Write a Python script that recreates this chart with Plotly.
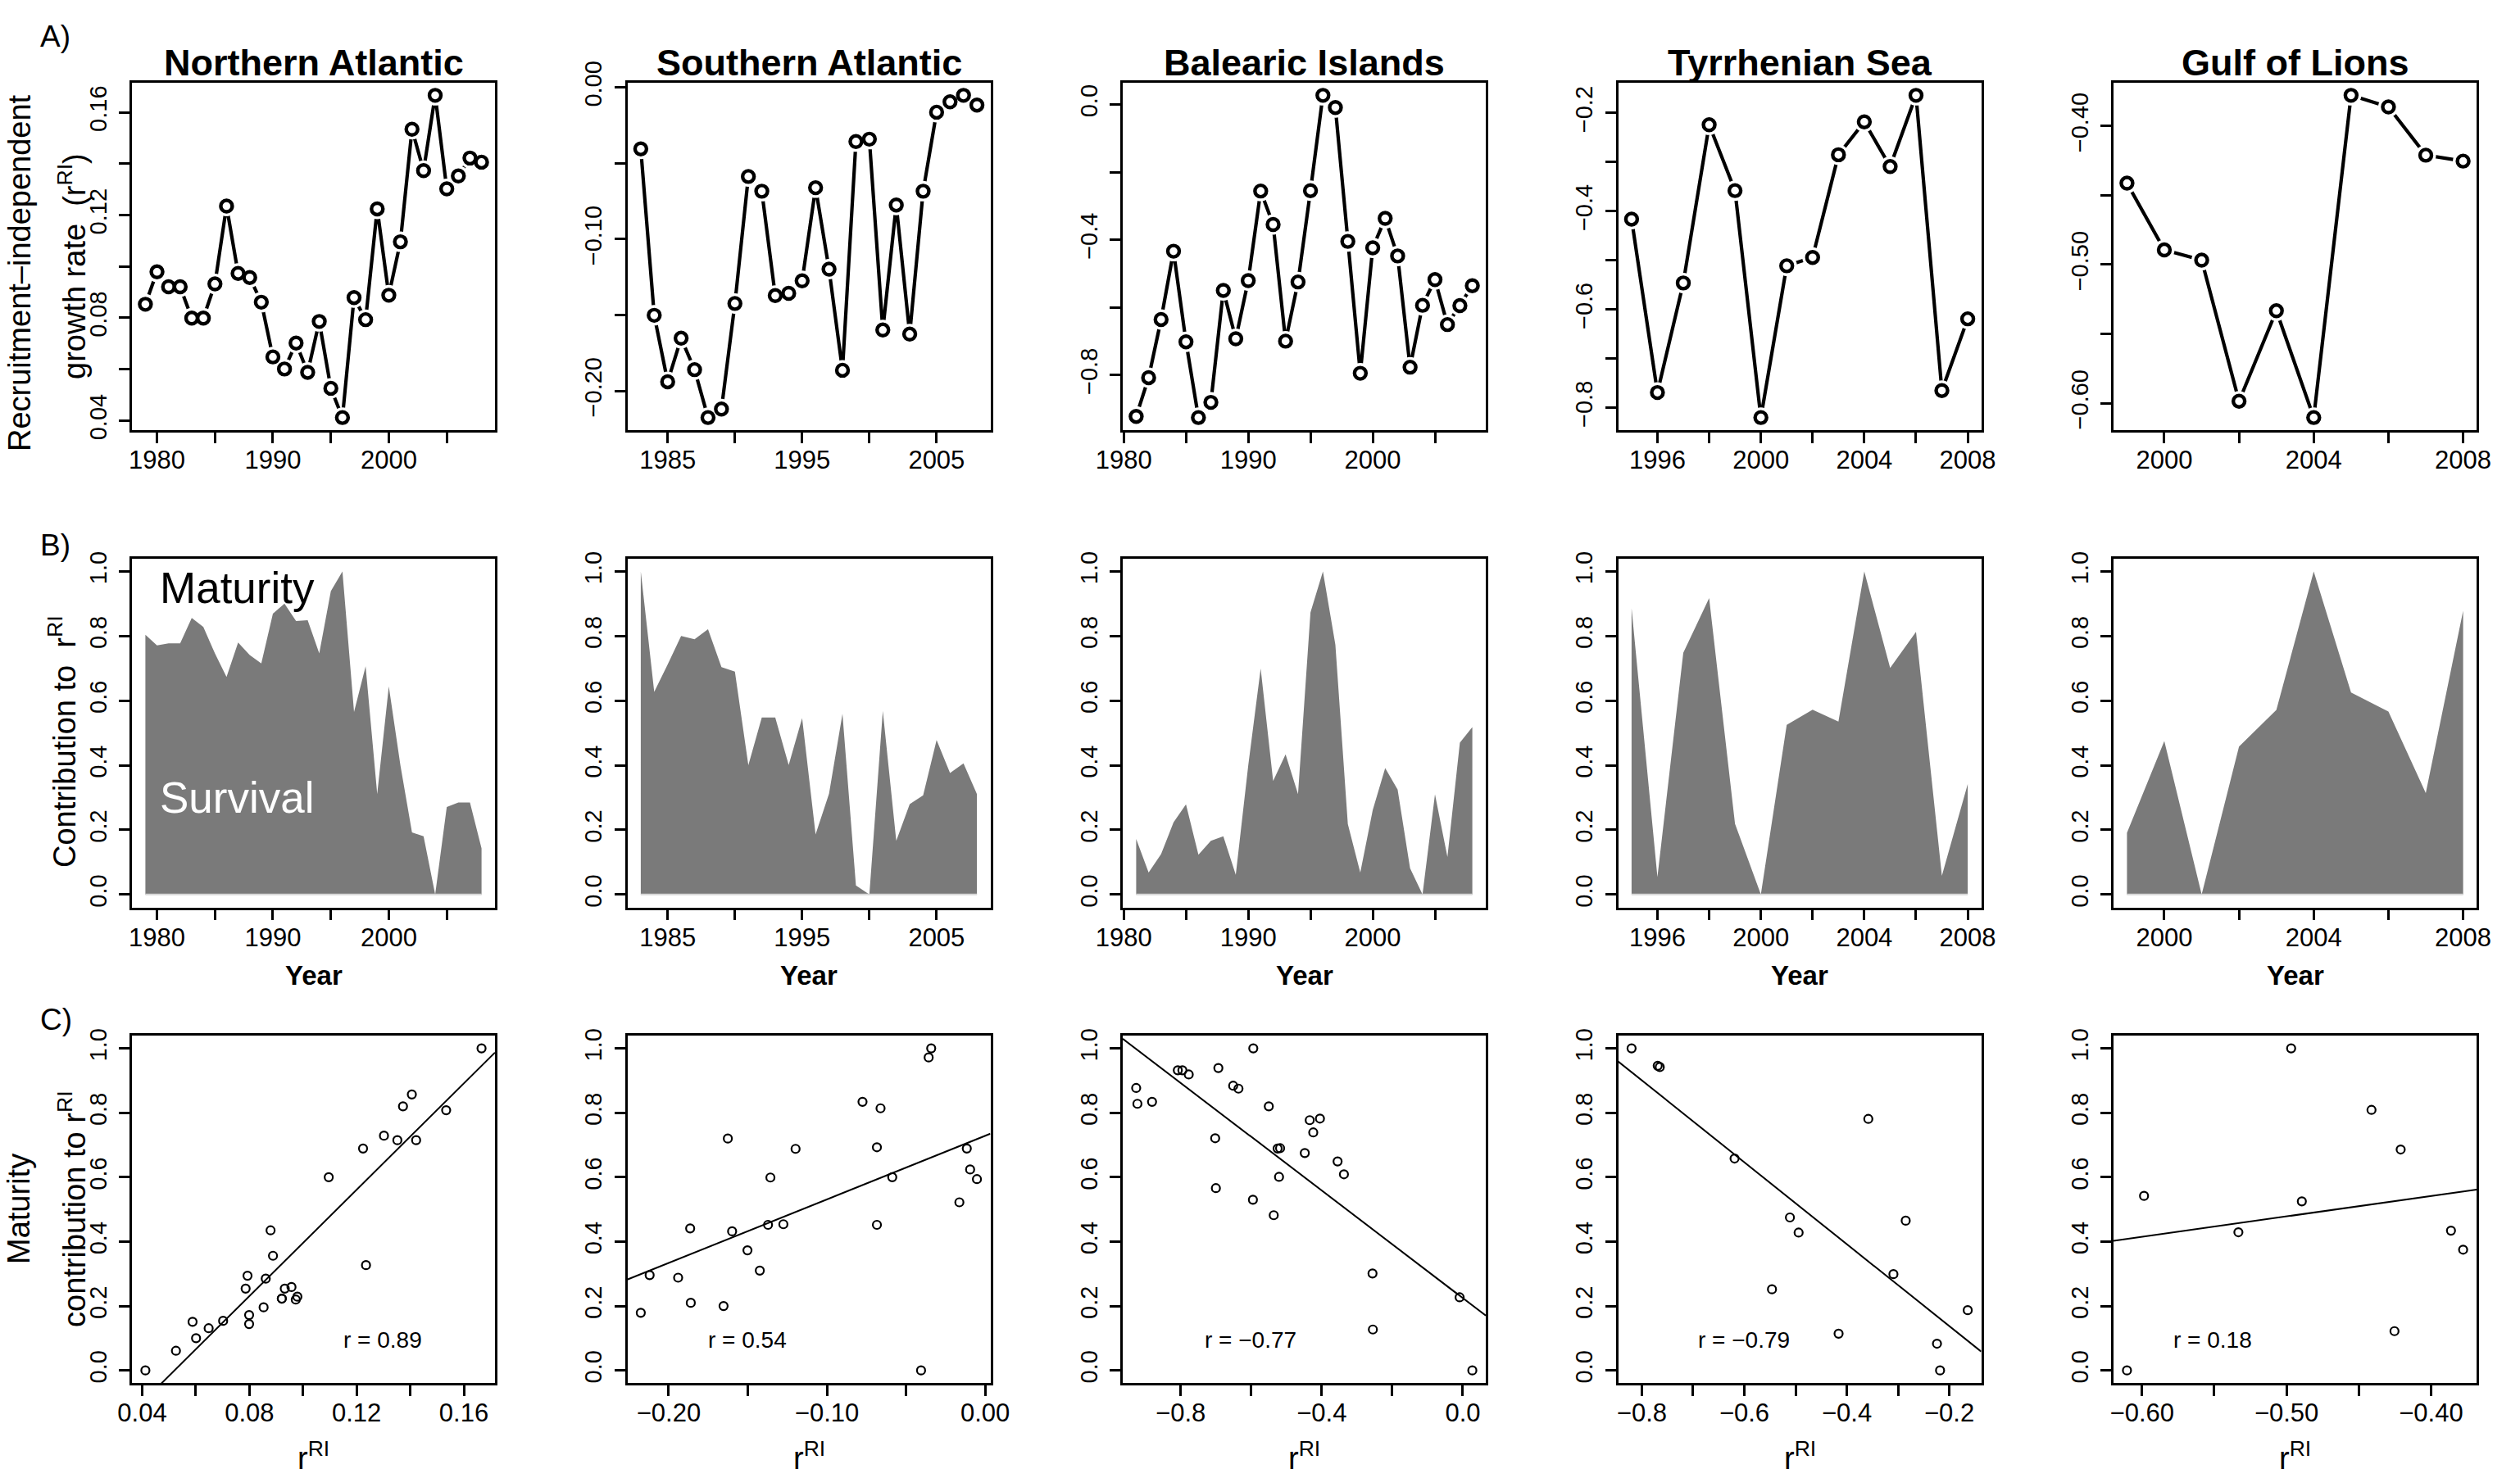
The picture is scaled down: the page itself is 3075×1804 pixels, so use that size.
import numpy as np
import plotly.graph_objects as go

FONT = "Liberation Sans, Arial, Helvetica, sans-serif"
W, H = 3075, 1804

regions = ["Northern Atlantic", "Southern Atlantic", "Balearic Islands",
           "Tyrrhenian Sea", "Gulf of Lions"]

# ---- yearly series per region -------------------------------------------
years_na = list(range(1979, 2009))
growth_na = [0.0853, 0.0979, 0.0921, 0.0921, 0.0799, 0.0799, 0.0932, 0.1235,
             0.0973, 0.0957, 0.0861, 0.0648, 0.0601, 0.0702, 0.0588, 0.0786,
             0.0526, 0.0412, 0.0879, 0.0793, 0.1224, 0.0888, 0.1096, 0.1534,
             0.1373, 0.1666, 0.1302, 0.1352, 0.1422, 0.1406]
maturity_na = [0.196, 0.229, 0.223, 0.223, 0.144, 0.172, 0.254, 0.327, 0.220,
               0.259, 0.285, 0.131, 0.100, 0.154, 0.151, 0.254, 0.061, 0.000,
               0.435, 0.294, 0.689, 0.356, 0.600, 0.808, 0.820, 1.000, 0.729,
               0.715, 0.715, 0.857]

years_sa = list(range(1983, 2009))
growth_sa = [-0.0405, -0.1502, -0.1940, -0.1653, -0.1860, -0.2176, -0.2120,
             -0.1424, -0.0587, -0.0684, -0.1372, -0.1357, -0.1275, -0.0661,
             -0.1198, -0.1864, -0.0357, -0.0341, -0.1599, -0.0775, -0.1626,
             -0.0684, -0.0163, -0.0095, -0.0052, -0.0116]
maturity_sa = [0.000, 0.373, 0.288, 0.200, 0.210, 0.179, 0.296, 0.310, 0.600,
               0.452, 0.452, 0.599, 0.454, 0.814, 0.688, 0.441, 0.972, 1.000,
               0.432, 0.834, 0.720, 0.693, 0.522, 0.624, 0.594, 0.689]

years_bi = list(range(1981, 2009))
growth_bi = [-0.9225, -0.808, -0.636, -0.434, -0.702, -0.926, -0.881, -0.550,
             -0.693, -0.521, -0.256, -0.355, -0.700, -0.525, -0.255, 0.027,
             -0.009, -0.405, -0.795, -0.424, -0.337, -0.448, -0.777, -0.594,
             -0.518, -0.651, -0.595, -0.536]
maturity_bi = [0.828, 0.932, 0.875, 0.777, 0.721, 0.877, 0.834, 0.820, 0.939,
               0.601, 0.301, 0.649, 0.566, 0.689, 0.127, 0.000, 0.227, 0.782,
               0.932, 0.739, 0.609, 0.675, 0.919, 1.000, 0.690, 0.884, 0.530,
               0.482]

years_ts = list(range(1995, 2009))
growth_ts = [-0.416, -0.769, -0.546, -0.224, -0.358, -0.820, -0.511, -0.494,
             -0.285, -0.218, -0.309, -0.164, -0.765, -0.619]
maturity_ts = [0.114, 0.946, 0.252, 0.083, 0.781, 1.000, 0.475, 0.428, 0.465,
               0.000, 0.299, 0.187, 0.942, 0.658]

years_gl = list(range(1999, 2009))
growth_gl = [-0.4412, -0.4894, -0.4968, -0.5986, -0.5333, -0.6104, -0.3778,
             -0.3862, -0.4210, -0.4253]
maturity_gl = [0.809, 0.525, 1.000, 0.542, 0.429, 0.000, 0.375, 0.434, 0.686,
               0.122]

years = [years_na, years_sa, years_bi, years_ts, years_gl]
growth = [growth_na, growth_sa, growth_bi, growth_ts, growth_gl]
maturity = [maturity_na, maturity_sa, maturity_bi, maturity_ts, maturity_gl]

# ---- tick marks and labels (labelled ticks + extra unlabelled ticks) -------
year_tick_vals = [[1980, 1990, 2000], [1985, 1995, 2005], [1980, 1990, 2000],
                  [1996, 2000, 2004, 2008], [2000, 2004, 2008]]
year_tick_text = [["1980", "1990", "2000"], ["1985", "1995", "2005"],
                  ["1980", "1990", "2000"], ["1996", "2000", "2004", "2008"],
                  ["2000", "2004", "2008"]]
year_minor_vals = [[1985, 1995, 2005], [1990, 2000], [1985, 1995, 2005],
                   [1998, 2002, 2006], [2002, 2006]]

growth_tick_vals = [[0.04, 0.08, 0.12, 0.16], [0.00, -0.10, -0.20],
                    [0.0, -0.4, -0.8], [-0.2, -0.4, -0.6, -0.8],
                    [-0.40, -0.50, -0.60]]
growth_tick_text = [["0.04", "0.08", "0.12", "0.16"],
                    ["0.00", "\u22120.10", "\u22120.20"],
                    ["0.0", "\u22120.4", "\u22120.8"],
                    ["\u22120.2", "\u22120.4", "\u22120.6", "\u22120.8"],
                    ["\u22120.40", "\u22120.50", "\u22120.60"]]
growth_minor_vals = [[0.06, 0.10, 0.14], [-0.05, -0.15], [-0.2, -0.6],
                     [-0.3, -0.5, -0.7], [-0.45, -0.55]]

share_tick_vals = [0.0, 0.2, 0.4, 0.6, 0.8, 1.0]
share_tick_text = ["0.0", "0.2", "0.4", "0.6", "0.8", "1.0"]

r_labels = ["r = 0.89", "r = 0.54", "r = \u22120.77", "r = \u22120.79", "r = 0.18"]
r_label_x = [0.1298, -0.150, -0.602, -0.601, -0.551]

# ---- page geometry (pixels) -----------------------------------------------
col_left = [161, 765.5, 1370, 1974.5, 2579]
box_w = 443
row_top = [100.6, 681.6, 1263.9]
row_bot = [525.4, 1107.6, 1688.4]


def px_x(x):
    return x / W


def px_y(y):
    return 1 - y / H


def pad_range(vals):
    lo, hi = min(vals), max(vals)
    d = (hi - lo) * 0.04
    return [lo - d, hi + d]


tick_style = dict(ticks="outside", ticklen=13, tickwidth=2.5, tickcolor="black")
axis_common = dict(
    showline=True, linecolor="black", linewidth=2.5, mirror=True,
    showgrid=False, zeroline=False, fixedrange=True, automargin=False,
    **tick_style,
)
x_font = dict(family=FONT, size=31, color="black")
y_font = dict(family=FONT, size=29, color="black")


def x_axis(domain, rng, anchor, vals, text, minor):
    return dict(domain=domain, range=rng, anchor=anchor, tickmode="array",
                tickvals=vals, ticktext=text, tickfont=x_font, ticklabelstandoff=-6,
                minor=dict(tickvals=minor, showgrid=False, **tick_style),
                **axis_common)


def y_axis(domain, rng, anchor, vals, text, minor=None):
    d = dict(domain=domain, range=rng, anchor=anchor, tickmode="array",
             tickvals=vals, ticktext=text, tickfont=y_font, tickangle=-90,
             ticklabelstandoff=4, **axis_common)
    if minor:
        d["minor"] = dict(tickvals=minor, showgrid=False, **tick_style)
    return d


fig = go.Figure()
layout_axes = {}


def ax_name(kind, idx):
    return f"{kind}axis" if idx == 1 else f"{kind}axis{idx}"


def ax_ref(kind, idx):
    return kind if idx == 1 else f"{kind}{idx}"


GRAY = "#7a7a7a"

for c in range(5):
    xd = [px_x(col_left[c]), px_x(col_left[c] + box_w)]
    yr_rng = pad_range(years[c])
    yrs = np.array(years[c])
    g = np.array(growth[c])
    m = np.array(maturity[c])

    # --- row A: growth rate time series (line broken around each point)
    ia = c + 1
    xa, ya = ax_ref("x", ia), ax_ref("y", ia)
    fig.add_trace(go.Scatter(x=yrs, y=g, mode="lines", xaxis=xa, yaxis=ya,
                             line=dict(color="black", width=4.2), showlegend=False,
                             hoverinfo="skip"))
    fig.add_trace(go.Scatter(x=yrs, y=g, mode="markers", xaxis=xa, yaxis=ya,
                             marker=dict(size=25, color="white", line=dict(width=0)),
                             showlegend=False, hoverinfo="skip"))
    fig.add_trace(go.Scatter(x=yrs, y=g, mode="markers", xaxis=xa, yaxis=ya,
                             marker=dict(symbol="circle-open", size=14, color="black",
                                         line=dict(color="black", width=4.4)),
                             showlegend=False))
    layout_axes[ax_name("x", ia)] = x_axis(xd, yr_rng, ya, year_tick_vals[c],
                                           year_tick_text[c], year_minor_vals[c])
    layout_axes[ax_name("y", ia)] = y_axis(
        [px_y(row_bot[0]), px_y(row_top[0])], pad_range(growth[c]), xa,
        growth_tick_vals[c], growth_tick_text[c], growth_minor_vals[c])

    # --- row B: survival share (grey) under maturity share (white)
    ib = c + 6
    xb, yb = ax_ref("x", ib), ax_ref("y", ib)
    survival = 1 - m
    fig.add_trace(go.Scatter(x=yrs, y=survival, mode="lines", fill="tozeroy",
                             fillcolor=GRAY, line=dict(width=0, color=GRAY),
                             xaxis=xb, yaxis=yb, showlegend=False))
    fig.add_trace(go.Scatter(x=[yrs[0], yrs[-1]], y=[0, 0], mode="lines",
                             line=dict(color="#d6d6d6", width=2),
                             xaxis=xb, yaxis=yb, showlegend=False, hoverinfo="skip"))
    layout_axes[ax_name("x", ib)] = x_axis(xd, yr_rng, yb, year_tick_vals[c],
                                           year_tick_text[c], year_minor_vals[c])
    layout_axes[ax_name("y", ib)] = y_axis(
        [px_y(row_bot[1]), px_y(row_top[1])], [-0.04, 1.04], xb,
        share_tick_vals, share_tick_text)

    # --- row C: maturity share against growth rate, with least-squares line
    ic = c + 11
    xc, yc = ax_ref("x", ic), ax_ref("y", ic)
    gx_rng = pad_range(growth[c])
    slope, icpt = np.polyfit(g, m, 1)
    fig.add_trace(go.Scatter(x=gx_rng, y=[icpt + slope * v for v in gx_rng],
                             mode="lines", line=dict(color="black", width=2),
                             xaxis=xc, yaxis=yc, showlegend=False, hoverinfo="skip"))
    fig.add_trace(go.Scatter(x=g, y=m, mode="markers", xaxis=xc, yaxis=yc,
                             marker=dict(symbol="circle-open", size=10, color="black",
                                         line=dict(color="black", width=2.2)),
                             showlegend=False))
    layout_axes[ax_name("x", ic)] = x_axis(xd, gx_rng, yc, growth_tick_vals[c],
                                           growth_tick_text[c], growth_minor_vals[c])
    layout_axes[ax_name("y", ic)] = y_axis(
        [px_y(row_bot[2]), px_y(row_top[2])], [-0.04, 1.04], xc,
        share_tick_vals, share_tick_text)

annotations = []


def note(text, x, y, size, xref="paper", yref="paper", angle=0, color="black",
         xanchor="center", yanchor="middle"):
    annotations.append(dict(text=text, x=x, y=y, xref=xref, yref=yref,
                            showarrow=False, textangle=angle, xanchor=xanchor,
                            yanchor=yanchor,
                            font=dict(family=FONT, size=size, color=color)))


for c in range(5):
    cx = px_x(col_left[c] + box_w / 2)
    note(f"<b>{regions[c]}</b>", cx, px_y(76.5), 45)
    note("<b>Year</b>", cx, px_y(1190), 33)
    note("r<sup>RI</sup>", cx, px_y(1777), 38)
    note(r_labels[c], r_label_x[c], 0.095, 28,
         xref=ax_ref("x", c + 11), yref=ax_ref("y", c + 11))

# panel letters
note("A)", px_x(47), px_y(44), 37, xanchor="left")
note("B)", px_x(47), px_y(665), 37, xanchor="left")
note("C)", px_x(47), px_y(1244), 37, xanchor="left")

# axis titles on the left column
note("Recruitment\u2013independent", px_x(24), px_y(333), 38, angle=-90)
note("growth rate\u00a0\u00a0(r<sup>RI</sup>)", px_x(88), px_y(325), 38, angle=-90)
note("Contribution to\u00a0\u00a0r<sup>RI</sup>", px_x(76), px_y(905), 38, angle=-90)
note("Maturity", px_x(23), px_y(1476), 38, angle=-90)
note("contribution to\u00a0r<sup>RI</sup>", px_x(88), px_y(1476), 38, angle=-90)

# labels inside the first contribution panel
note("Maturity", 1986.9, 0.95, 53, xref="x6", yref="y6")
note("Survival", 1986.9, 0.30, 53, xref="x6", yref="y6", color="white")

fig.update_layout(
    template="none",
    width=W, height=H, autosize=False,
    margin=dict(l=0, r=0, t=0, b=0, pad=0),
    paper_bgcolor="white", plot_bgcolor="white",
    font=dict(family=FONT, color="black"),
    showlegend=False,
    annotations=annotations,
    **layout_axes,
)

fig.write_html("out.html")
